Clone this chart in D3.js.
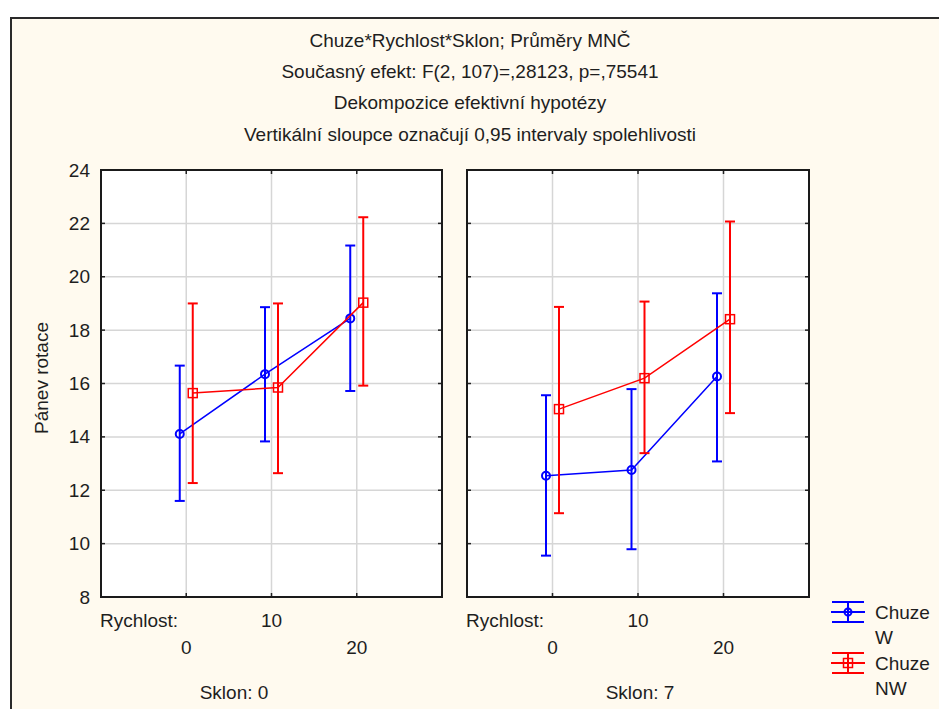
<!DOCTYPE html>
<html><head><meta charset="utf-8">
<script src="https://cdn.jsdelivr.net/npm/d3@7"></script>
<style>
html,body{margin:0;padding:0;background:#fff;}
svg{display:block;}
text{font-family:"Liberation Sans",Arial,sans-serif;fill:#1e1e1e;}
</style></head><body>
<script>
// ---- data ----
const titleLines = [
  "Chuze*Rychlost*Sklon; Průměry MNČ",
  "Současný efekt: F(2, 107)=,28123, p=,75541",
  "Dekompozice efektivní hypotézy",
  "Vertikální sloupce označují 0,95 intervaly spolehlivosti"
];
const yLabel = "Pánev rotace";
const xFactor = "Rychlost:";
const categories = ["0", "10", "20"];
const panels = ["Sklon: 0", "Sklon: 7"];
const yTicks = [8, 10, 12, 14, 16, 18, 20, 22, 24];
const seriesNames = ["Chuze W", "Chuze NW"];
// means [panel][category]
const meanW  = [[14.11, 16.35, 18.44], [12.54, 12.76, 16.26]];
const lowW   = [[11.60, 13.83, 15.72], [9.55, 9.79, 13.08]];
const highW  = [[16.67, 18.86, 21.17], [15.56, 15.79, 19.38]];
const meanNW = [[15.64, 15.85, 19.03], [15.04, 16.20, 18.41]];
const lowNW  = [[12.27, 12.64, 15.92], [11.14, 13.39, 14.89]];
const highNW = [[19.00, 19.00, 22.23], [18.87, 19.07, 22.07]];

// ---- layout ----
const W = 939, H = 709;
const svg = d3.select("body").append("svg").attr("width", W).attr("height", H);
const FS = 19;
svg.append("rect").attr("width", W).attr("height", H).attr("fill", "#ffffff");
svg.append("rect").attr("x", 11).attr("y", 18).attr("width", W + 10).attr("height", H + 10)
  .attr("fill", "#fffaef").attr("stroke", "#2a2a2a").attr("stroke-width", 2);

titleLines.forEach((t, i) => {
  svg.append("text").attr("x", 470).attr("y", 40 + i * 31.3).attr("dy", "0.35em")
    .attr("text-anchor", "middle").attr("font-size", FS).text(t);
});

const y = d3.scaleLinear().domain([8, 24]).range([597, 170]);
const panelX = [[101, 442], [467, 809]];
const panelLabelX = [234, 640];
const colors = ["#0000ff", "#ff0000"];
const offsets = [-6.5, 6.5];

// y label
svg.append("text").attr("transform", "translate(41,378) rotate(-90)").attr("dy", "0.35em")
  .attr("text-anchor", "middle").attr("font-size", FS).text(yLabel);

// y tick labels
const yAxis = svg.append("g").attr("transform", "translate(101,0)")
  .call(d3.axisLeft(y).tickValues(yTicks).tickSize(0).tickPadding(11).tickFormat(d3.format("d")));
yAxis.select(".domain").remove();
yAxis.selectAll("text").attr("font-size", FS).attr("font-family", "Liberation Sans, Arial, sans-serif").attr("fill", "#1e1e1e");

const series = [
  {name: seriesNames[0], mean: meanW, low: lowW, high: highW},
  {name: seriesNames[1], mean: meanNW, low: lowNW, high: highNW}
];

panels.forEach((pname, p) => {
  const [x0, x1] = panelX[p];
  const x = d3.scalePoint().domain(categories).range([x0, x1]).padding(1);
  const g = svg.append("g");
  g.append("rect").attr("x", x0).attr("y", 170).attr("width", x1 - x0).attr("height", 427).attr("fill", "#ffffff");
  // grid
  g.selectAll(".hg").data(yTicks.filter(v => v > 8 && v < 24)).join("line")
    .attr("x1", x0).attr("x2", x1).attr("y1", d => y(d)).attr("y2", d => y(d))
    .attr("stroke", "#d6d6d6").attr("stroke-width", 1.5);
  g.selectAll(".vg").data(categories).join("line")
    .attr("x1", d => x(d)).attr("x2", d => x(d)).attr("y1", 170).attr("y2", 597)
    .attr("stroke", "#d6d6d6").attr("stroke-width", 1.5);
  // inner ticks
  const tl = 4;
  const ticksY = yTicks.filter(v => v > 8 && v < 24);
  ticksY.forEach(v => {
    g.append("line").attr("x1", x0).attr("x2", x0 + tl).attr("y1", y(v)).attr("y2", y(v)).attr("stroke", "#222").attr("stroke-width", 1.5);
    g.append("line").attr("x1", x1 - tl).attr("x2", x1).attr("y1", y(v)).attr("y2", y(v)).attr("stroke", "#222").attr("stroke-width", 1.5);
  });
  categories.forEach(c => {
    g.append("line").attr("x1", x(c)).attr("x2", x(c)).attr("y1", 170).attr("y2", 170 + tl).attr("stroke", "#222").attr("stroke-width", 1.5);
    g.append("line").attr("x1", x(c)).attr("x2", x(c)).attr("y1", 597 - tl).attr("y2", 597).attr("stroke", "#222").attr("stroke-width", 1.5);
  });

  series.forEach((s, si) => {
    const col = colors[si];
    const pts = categories.map((c, i) => ({x: x(c) + offsets[si], m: s.mean[p][i], lo: s.low[p][i], hi: s.high[p][i]}));
    // error bars
    pts.forEach(d => {
      g.append("line").attr("x1", d.x).attr("x2", d.x).attr("y1", y(d.lo)).attr("y2", y(d.hi)).attr("stroke", col).attr("stroke-width", 2);
      [d.lo, d.hi].forEach(v => g.append("line").attr("x1", d.x - 5).attr("x2", d.x + 5).attr("y1", y(v)).attr("y2", y(v)).attr("stroke", col).attr("stroke-width", 2));
    });
    g.append("path").datum(pts).attr("d", d3.line().x(d => d.x).y(d => y(d.m)))
      .attr("fill", "none").attr("stroke", col).attr("stroke-width", 1.5);
    pts.forEach(d => {
      if (si === 0) {
        g.append("circle").attr("cx", d.x).attr("cy", y(d.m)).attr("r", 4).attr("fill", "none").attr("stroke", col).attr("stroke-width", 2);
      } else {
        g.append("rect").attr("x", d.x - 4.5).attr("y", y(d.m) - 4.5).attr("width", 9).attr("height", 9).attr("fill", "none").attr("stroke", col).attr("stroke-width", 1.5);
      }
    });
  });

  g.append("rect").attr("x", x0).attr("y", 170).attr("width", x1 - x0).attr("height", 427)
    .attr("fill", "none").attr("stroke", "#1a1a1a").attr("stroke-width", 2);

  // x labels
  g.append("text").attr("x", x0 - 1).attr("y", 620).attr("dy", "0.35em").attr("font-size", FS).text(xFactor);
  categories.forEach((c, i) => {
    g.append("text").attr("x", x(c)).attr("y", i % 2 === 1 ? 620 : 647).attr("dy", "0.35em")
      .attr("text-anchor", "middle").attr("font-size", FS).text(c);
  });
  g.append("text").attr("x", panelLabelX[p]).attr("y", 692).attr("dy", "0.35em")
    .attr("text-anchor", "middle").attr("font-size", FS).text(pname);
});

// legend
const leg = svg.append("g");
const legY = [612, 663];
series.forEach((s, si) => {
  const col = colors[si];
  const cy = legY[si];
  const cx = 848;
  leg.append("line").attr("x1", cx - 17).attr("x2", cx + 17).attr("y1", cy).attr("y2", cy).attr("stroke", col).attr("stroke-width", 2);
  [-10, 10].forEach(o => leg.append("line").attr("x1", cx - 16).attr("x2", cx + 16).attr("y1", cy + o).attr("y2", cy + o).attr("stroke", col).attr("stroke-width", 2));
  leg.append("line").attr("x1", cx).attr("x2", cx).attr("y1", cy - 10).attr("y2", cy + 10).attr("stroke", col).attr("stroke-width", 2);
  if (si === 0) leg.append("circle").attr("cx", cx).attr("cy", cy).attr("r", 3.5).attr("fill", "none").attr("stroke", col).attr("stroke-width", 2);
  else leg.append("rect").attr("x", cx - 4.5).attr("y", cy - 4.5).attr("width", 9).attr("height", 9).attr("fill", "none").attr("stroke", col).attr("stroke-width", 1.5);
  const parts = s.name.split(" ");
  parts.forEach((t, k) => {
    leg.append("text").attr("x", 875).attr("y", cy + k * 25).attr("dy", "0.35em").attr("font-size", FS).text(t);
  });
});
</script>
</body></html>
